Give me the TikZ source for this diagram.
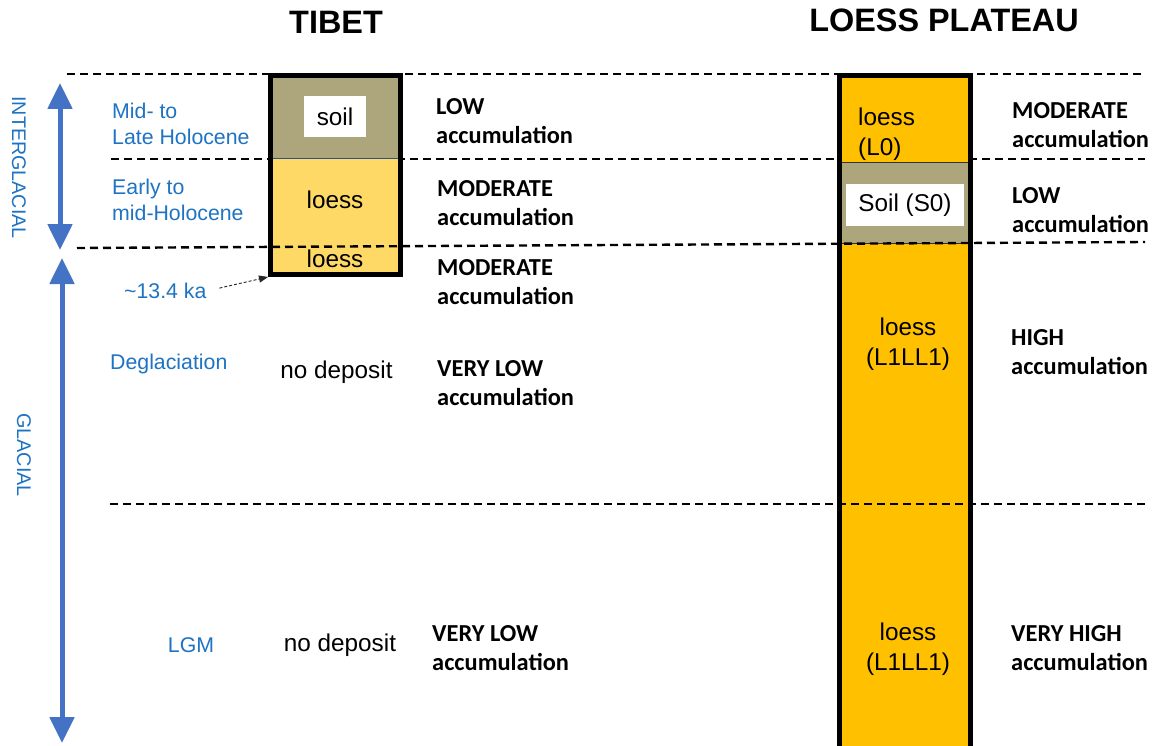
\documentclass[tikz,border=0pt]{standalone}
\usepackage{fontspec}
\setmainfont{Liberation Sans}
\newfontfamily\carl{Carlito}
\usetikzlibrary{arrows.meta}
\definecolor{soilc}{RGB}{173,165,123}
\definecolor{tloess}{RGB}{255,217,102}
\definecolor{ploess}{RGB}{255,192,0}
\definecolor{arrowblue}{RGB}{68,114,196}
\definecolor{textblue}{RGB}{30,115,195}
\definecolor{edgeblue}{RGB}{47,82,143}
\begin{document}
\begin{tikzpicture}[x=1pt,y=-1pt,
  dline/.style={draw=black,line width=2.4pt,dash pattern=on 8pt off 5pt},
  acc/.style={font=\carl\bfseries\fontsize{24.4}{29}\selectfont,align=left,anchor=west,inner sep=0pt},
  bluelbl/.style={text=textblue,font=\fontsize{21.3}{26}\selectfont,align=left,anchor=west,inner sep=0pt},
  blk/.style={font=\fontsize{24.3}{29.5}\selectfont,inner sep=0pt,align=center},
  ttl/.style={font=\bfseries\fontsize{32.4}{36}\selectfont,inner sep=0pt},
  bigarrow/.style={draw=arrowblue,line width=5pt,{Triangle[length=26pt 0 0,width=24pt 0 0]}-{Triangle[length=26pt 0 0,width=24pt 0 0]}},
  whitebox/.style={fill=white,inner sep=0pt,font=\fontsize{24.3}{29.5}\selectfont},
]
\useasboundingbox[fill=white] (0,0) rectangle (1153,746);

% titles
\node[ttl] (ttibet) at (336,22) {TIBET};
\node[ttl] (tloessp) at (944,20) {LOESS PLATEAU};

% dashed lines behind the columns
\coordinate (d1a) at (67,74);  \coordinate (d1b) at (1145,74);
\coordinate (d2a) at (111,159); \coordinate (d2b) at (1145,159);
\coordinate (d3a) at (77,248); \coordinate (d3b) at (1145,242);
\coordinate (d4a) at (110,504); \coordinate (d4b) at (1145,504);
\draw[dline] (d1a) -- (d1b);
\draw[dline] (d2a) -- (d2b);

% Tibet column
\fill[soilc] (270.5,75.5) rectangle (400.5,158);
\fill[tloess] (270.5,158) rectangle (400.5,274.5);
\draw[edgeblue,line width=0.8pt] (270.5,158) -- (400.5,158);
\node[draw,line width=5pt,minimum width=130pt,minimum height=199pt,inner sep=0pt] (tibet) at (335.5,175) {};
\node[whitebox,minimum width=62pt,minimum height=41pt] (soilT) at (335,116.5) {soil};
\node[blk] (loessT1) at (335,199.5) {loess};
\node[blk] (loessT2) at (335,258.5) {loess};

% Loess plateau column
\fill[ploess] (839.5,75.5) rectangle (970.5,760);
\fill[soilc] (839.5,162) rectangle (970.5,243);
\draw[black!80,line width=0.8pt] (839.5,162) -- (970.5,162);
\draw[black!80,line width=0.8pt] (839.5,243) -- (970.5,243);
\draw[line width=4.5pt] (839.5,760) -- (839.5,75.5) -- (970.5,75.5) -- (970.5,760);
\node[whitebox,minimum width=118pt,minimum height=42pt] (soilP) at (905,205) {Soil (S0)};
\node[blk,align=left,anchor=west] (loessL0) at (858,134) {loess\\(L0)};
\node[blk] (loessL1a) at (908,344) {loess\\(L1LL1)};
\node[blk] (loessL1b) at (908,649) {loess\\(L1LL1)};

% dashed lines on top
\draw[dline] (d3a) -- (d3b);
\draw[dline] (d4a) -- (d4b);

% blue arrows
\coordinate (ia) at (60,83); \coordinate (ib) at (60,250);
\coordinate (ga) at (62,258); \coordinate (gb) at (62,743);
\draw[bigarrow] (ia) -- (ib);
\draw[bigarrow] (ga) -- (gb);
\node[text=textblue,font=\fontsize{19.7}{24}\selectfont,rotate=-90,inner sep=0pt] (inter) at (19,167.5) {INTERGLACIAL};
\node[text=textblue,font=\fontsize{19.8}{24}\selectfont,rotate=-90,inner sep=0pt] (glac) at (24,455) {GLACIAL};

% blue labels
\node[bluelbl] (midlate) at (112,124) {Mid- to\\Late Holocene};
\node[bluelbl] (earlymid) at (112,200) {Early to\\mid-Holocene};
\node[bluelbl] (ka) at (124,291) {\textasciitilde13.4 ka};
\node[bluelbl] (degl) at (110,364) {Deglaciation};
\node[bluelbl,anchor=center] (lgm) at (191,645) {LGM};
\draw[black!85,line width=0.9pt,dash pattern=on 3pt off 2pt,shorten <=13pt,-{Triangle[length=9pt 0 0,width=7pt 0 0]}] (ka.east) -- (tibet.south west);

% no deposit
\node[blk] (nod1) at (336.5,372) {no deposit};
\node[blk] (nod2) at (340,645) {no deposit};

% accumulation labels, Tibet
\node[acc] (a1) at (436,121.5) {LOW\\accumulation};
\node[acc] (a2) at (437,203) {MODERATE\\accumulation};
\node[acc] (a3) at (437,282) {MODERATE\\accumulation};
\node[acc] (a4) at (437,383) {VERY LOW\\accumulation};
\node[acc] (a5) at (432,648) {VERY LOW\\accumulation};

% accumulation labels, Loess Plateau
\node[acc] (b1) at (1012,125.5) {MODERATE\\accumulation};
\node[acc] (b2) at (1012,210) {LOW\\accumulation};
\node[acc] (b3) at (1011,352) {HIGH\\accumulation};
\node[acc] (b4) at (1011,648) {VERY HIGH\\accumulation};
\end{tikzpicture}
\end{document}
